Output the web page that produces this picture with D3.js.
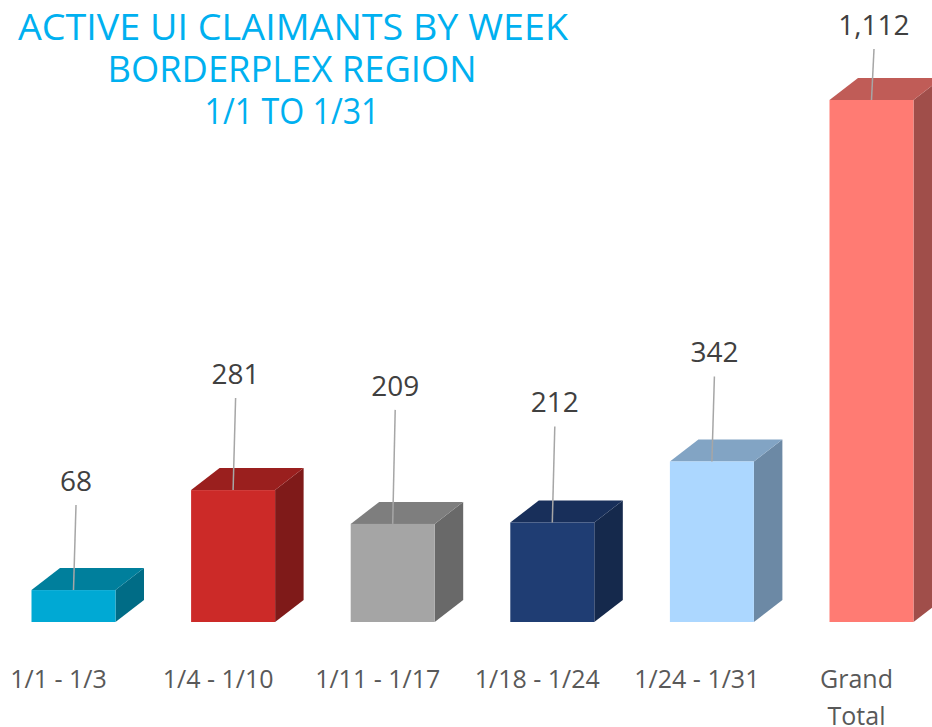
<!DOCTYPE html>
<html><head><meta charset="utf-8">
<script src="https://cdn.jsdelivr.net/npm/d3@7"></script>
<style>body{margin:0;background:#fff;overflow:hidden}</style>
</head><body><svg id="c" width="932" height="727"></svg>
<script>
// ---- data ----
const categories = ["1/1 - 1/3", "1/4 - 1/10", "1/11 - 1/17", "1/18 - 1/24", "1/24 - 1/31", "Grand Total"];
const values = [68, 281, 209, 212, 342, 1112];
const titleLines = ["ACTIVE UI CLAIMANTS BY WEEK", "BORDERPLEX REGION", "1/1 TO 1/31"];

// ---- styles / layout ----
const frontColors = ["#00A9D4", "#CC2A28", "#A5A5A5", "#1F3D73", "#ACD7FF", "#FF7B73"];
const topColors   = ["#007F9C", "#9A1F1E", "#7E7E7E", "#182F5A", "#82A4C4", "#C05C57"];
const sideColors  = ["#006C86", "#7F1A19", "#696969", "#15294C", "#6C89A5", "#A04E4A"];
const labelLift   = [109, 116, 138, 120, 109, 75];
const font = "'Open Sans', 'Noto Sans', sans-serif";
const W = 932, H = 727;
const barW = 84, depthX = 28.5, depthY = 22;

const svg = d3.select("#c");

const x = d3.scalePoint().domain(categories).range([73.5, 871.5]);
const y = d3.scaleLinear().domain([0, 1112]).range([622, 100]);

// Title
const titleX = [293, 292, 292], titleLen = [550, 369, 175];
svg.append("g").selectAll("text").data(titleLines).join("text")
  .attr("x", (d, i) => titleX[i])
  .attr("y", (d, i) => 40 + i * 42)
  .attr("text-anchor", "middle")
  .attr("font-family", font)
  .attr("font-size", 37)
  .attr("fill", "#00B0F0")
  .attr("textLength", (d, i) => titleLen[i])
  .attr("lengthAdjust", "spacingAndGlyphs")
  .text(d => d);

// Bars
const data = categories.map((c, i) => ({c, v: values[i], i}));
const bars = svg.append("g").selectAll("g").data(data).join("g");

bars.each(function(d) {
  const g = d3.select(this);
  const x0 = x(d.c) - barW / 2, x1 = x0 + barW;
  const yt = y(d.v), yb = y(0);
  // side
  g.append("path")
    .attr("d", `M${x1},${yb} L${x1 + depthX},${yb - depthY} L${x1 + depthX},${yt - depthY} L${x1},${yt} Z`)
    .attr("fill", sideColors[d.i]);
  // top
  g.append("path")
    .attr("d", `M${x0},${yt} L${x0 + depthX},${yt - depthY} L${x1 + depthX},${yt - depthY} L${x1},${yt} Z`)
    .attr("fill", topColors[d.i]);
  // front
  g.append("rect")
    .attr("x", x0).attr("y", yt).attr("width", barW).attr("height", yb - yt)
    .attr("fill", frontColors[d.i]);
});

// Data labels + leader lines
bars.each(function(d) {
  const g = d3.select(this);
  const cx = x(d.c);
  const yt = y(d.v);
  const ly = yt - labelLift[d.i];
  g.append("line")
    .attr("x1", cx + 2.5).attr("y1", ly + 24)
    .attr("x2", cx).attr("y2", yt)
    .attr("stroke", "#A6A6A6").attr("stroke-width", 1.5);
  g.append("text")
    .attr("x", cx + 2.5).attr("y", ly + 10)
    .attr("text-anchor", "middle")
    .attr("font-family", font)
    .attr("font-size", 28)
    .attr("fill", "#404040")
    .text(d3.format(",")(d.v));
});

// Category labels (wrap "Grand Total")
svg.append("g").selectAll("text").data(categories).join("text")
  .attr("x", d => x(d) - 15)
  .attr("y", 688)
  .attr("text-anchor", "middle")
  .attr("font-family", font)
  .attr("font-size", 25)
  .attr("fill", "#595959")
  .each(function(d) {
    const t = d3.select(this);
    const parts = d === "Grand Total" ? ["Grand", "Total"] : [d];
    parts.forEach((p, k) => {
      t.append("tspan").attr("x", x(d) - 15).attr("dy", k === 0 ? 0 : 37).text(p);
    });
  });
</script>
</body></html>
